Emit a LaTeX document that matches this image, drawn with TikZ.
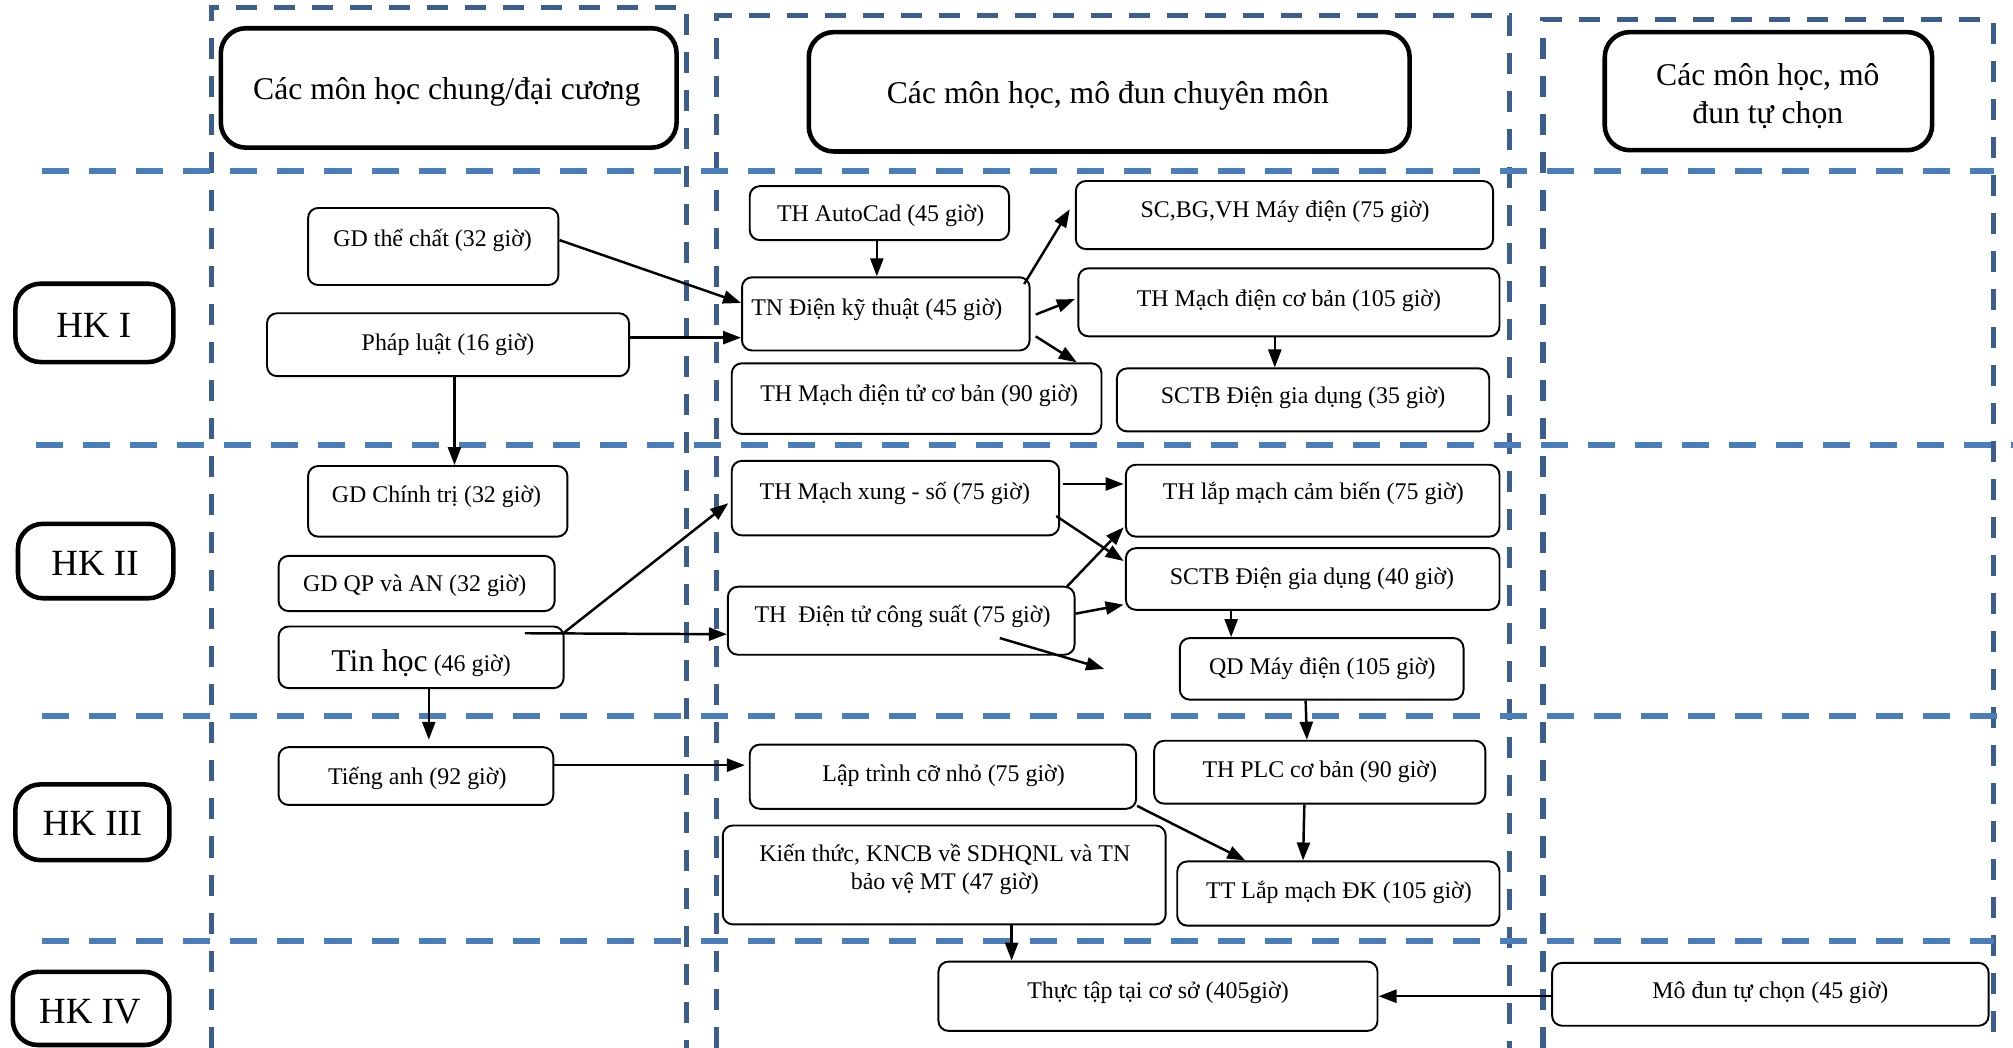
\documentclass[tikz,border=0pt]{standalone}
\usepackage{fontspec}
\setmainfont{Liberation Serif}
\usetikzlibrary{arrows.meta,fit,calc}
\definecolor{colD}{HTML}{3B5E8C}
\definecolor{colL}{HTML}{4A7EBB}
\begin{document}
\begin{tikzpicture}[x=0.012838cm, y=-0.012838cm,
  box/.style={draw, line width=0.55pt, rounded corners=0.1cm, inner sep=0pt},
  hdr/.style={draw, line width=1.3pt, rounded corners=0.25cm, inner sep=0pt},
  txt/.style={inner sep=0pt, yshift=-0.8pt, font=\fontsize{6.8}{7.7}\selectfont, align=center},
  htxt/.style={inner sep=0pt, yshift=-1pt, font=\fontsize{9}{10.9}\selectfont, align=center},
  hktxt/.style={inner sep=0pt, yshift=-0.4pt, font=\fontsize{10.5}{12}\selectfont},
  arr/.style={-{Triangle[length=0.18cm,width=0.13cm]}, line width=0.7pt},
  colline/.style={draw=colD, line width=0.053cm, dash pattern=on 0.21cm off 0.17cm},
  rowline/.style={draw=colL, line width=0.06cm, dash pattern=on 0.27cm off 0.2cm}]
\useasboundingbox (0,0) rectangle (1568,816);

% dashed grid
\draw[colline] (165,816) -- (165,6) -- (535,6) -- (535,816);
\draw[colline] (558,816) -- (558,12) -- (1176,12) -- (1176,816);
\draw[colline] (1202,816) -- (1202,15) -- (1553,15) -- (1553,816);
\draw[rowline] (33,133) -- (1553,133);
\draw[rowline] (28,347) -- (1568,347);
\draw[rowline] (33,558) -- (1568,558);
\draw[rowline] (33,733) -- (1553,733);

% headers
\node[hdr, fit={(172,22) (527,115)}] (h1) {};
\node[htxt] (h1t) at (348,69) {Các môn học chung/đại cương};
\node[hdr, fit={(630,25) (1098,118)}] (h2) {};
\node[htxt] (h2t) at (863,72) {Các môn học, mô đun chuyên môn};
\node[hdr, fit={(1250,25) (1505,117)}] (h3) {};
\node[htxt] (h3t) at (1377,72) {Các môn học, mô\\đun tự chọn};

% semester labels
\node[hdr, fit={(12,221) (135,282)}] (hk1) {};
\node[hktxt] (hk1t) at (73,252) {HK I};
\node[hdr, fit={(14,408) (135,466)}] (hk2) {};
\node[hktxt] (hk2t) at (74,438) {HK II};
\node[hdr, fit={(12,611) (132,670)}] (hk3) {};
\node[hktxt] (hk3t) at (72,640) {HK III};
\node[hdr, fit={(10,757) (132,814)}] (hk4) {};
\node[hktxt] (hk4t) at (70,787) {HK IV};

% column 1
\node[box, fit={(240,162) (435,222)}] (gdtc) {};
\node[txt] (gdtct) at (337,185) {GD thể chất (32 giờ)};
\node[box, fit={(208,244) (490,293)}] (pl) {};
\node[txt] (plt) at (349,266) {Pháp luật (16 giờ)};
\node[box, fit={(240,363) (442,418)}] (gdct) {};
\node[txt] (gdctt) at (340,385) {GD Chính trị (32 giờ)};
\node[box, fit={(217,433) (432,476)}] (gdqp) {};
\node[txt] (gdqpt) at (323,454) {GD QP và AN (32 giờ)};
\node[box, fit={(217,488) (439,536)}] (tinhoc) {};
\node[txt] (tinhoct) at (328,514) {{\fontsize{9}{10}\selectfont Tin học} (46 giờ)};
\node[box, fit={(217,582) (431,627)}] (tienganh) {};
\node[txt] (tiengancht) at (325,604) {Tiếng anh (92 giờ)};

% column 2, HK I
\node[box, fit={(584,145) (786,187)}] (autocad) {};
\node[txt] (autocadt) at (686,166) {TH AutoCad (45 giờ)};
\node[box, fit={(578,216) (802,273)}] (tn) {};
\node[txt] (tnt) at (683,239) {TN Điện kỹ thuật (45 giờ)};
\node[box, fit={(570,283) (858,338)}] (thmdt) {};
\node[txt] (thmdtt) at (716,306) {TH Mạch điện tử cơ bản (90 giờ)};
\node[box, fit={(838,141) (1163,194)}] (scbg) {};
\node[txt] (scbgt) at (1001,163) {SC,BG,VH Máy điện (75 giờ)};
\node[box, fit={(840,209) (1168,262)}] (thmdcb) {};
\node[txt] (thmdcbt) at (1004,232) {TH Mạch điện cơ bản (105 giờ)};
\node[box, fit={(870,287) (1160,336)}] (sctb35) {};
\node[txt] (sctb35t) at (1015,308) {SCTB Điện gia dụng (35 giờ)};

% column 2, HK II
\node[box, fit={(570,359) (825,417)}] (thmx) {};
\node[txt] (thmxt) at (697,382) {TH Mạch xung - số (75 giờ)};
\node[box, fit={(877,362) (1168,418)}] (thlm) {};
\node[txt] (thlmt) at (1023,382) {TH lắp mạch cảm biến (75 giờ)};
\node[box, fit={(877,427) (1168,475)}] (sctb40) {};
\node[txt] (sctb40t) at (1022,449) {SCTB Điện gia dụng (40 giờ)};
\node[box, fit={(567,457) (837,510)}] (thdtcs) {};
\node[txt] (thdtcst) at (703,478) {TH\ \ Điện tử công suất (75 giờ)};
\node[box, fit={(919,497) (1140,545)}] (qd) {};
\node[txt] (qdt) at (1030,519) {QD Máy điện (105 giờ)};

% column 2, HK III
\node[box, fit={(584,580) (885,630)}] (ltcn) {};
\node[txt] (ltcnt) at (735,602) {Lập trình cỡ nhỏ (75 giờ)};
\node[box, fit={(899,577) (1157,626)}] (plc) {};
\node[txt] (plct) at (1028,599) {TH PLC cơ bản (90 giờ)};
\node[box, fit={(563,643) (908,720)}] (kt) {};
\node[txt] (ktt) at (736,675) {Kiến thức, KNCB về SDHQNL và TN\\bảo vệ MT (47 giờ)};
\node[box, fit={(917,671) (1168,721)}] (ttlm) {};
\node[txt] (ttlmt) at (1043,693) {TT Lắp mạch ĐK (105 giờ)};

% HK IV
\node[box, fit={(731,749) (1073,803)}] (ttcs) {};
\node[txt] (ttcst) at (902,771) {Thực tập tại cơ sở (405giờ)};
\node[box, fit={(1209,750) (1549,799)}] (mdtc) {};
\node[txt] (mdtct) at (1379,771) {Mô đun tự chọn (45 giờ)};

\coordinate (dang) at (860,521);

% connectors
\draw[arr] ($(gdtc.east)+(0,-5)$) -- ($(tn.west)+(0,-8.5)$);
\draw[arr] ($(pl.east)+(0,-5.5)$) -- ($(tn.west)+(0,18.5)$);
\draw[arr] ($(autocad.south)+(-2,0)$) -- ($(tn.north)+(-7,0)$);
\draw[arr] ($(tn.north east)+(-5,6)$) -- ($(scbg.west)+(-4,-4.5)$);
\draw[arr] ($(tn.east)+(4,0.5)$) -- ($(thmdcb.west)+(-2,-2.5)$);
\draw[arr] ($(tn.east)+(4,17.5)$) -- ($(thmdt.north east)+(-20,0)$);
\draw[arr] ($(thmdcb.south)+(-11,0)$) -- ($(sctb35.north)+(-22,0)$);
\draw[arr] ($(pl.south)+(5,0)$) -- ($(gdct.north)+(13,0)$);
\draw[arr] ($(tinhoc.north east)+(-1,6)$) -- ($(thmx.west)+(-2,4)$);
\draw[arr] ($(tinhoc.north east)+(-31,6)$) -- ($(thdtcs.west)+(0,10.5)$);
\draw[arr] ($(tinhoc.south)+(6,0)$) -- ($(tienganh.north)+(10,-5)$);
\draw[arr] ($(tienganh.east)+(0,-8.5)$) -- ($(ltcn.west)+(-3,-9)$);
\draw[arr] ($(thmx.east)+(2,-11)$) -- ($(thlm.west)+(-1,-13)$);
\draw[arr] ($(thmx.east)+(-3,14)$) -- ($(sctb40.west)+(-1,-14)$);
\draw[arr] ($(thdtcs.north east)+(-7,1)$) -- ($(thlm.south west)+(-1,-8)$);
\draw[arr] ($(thdtcs.east)+(0,-5.5)$) -- ($(sctb40.west)+(-1,20)$);
\draw[arr] ($(thdtcs.east)+(-59,13.5)$) -- (dang);
\draw[arr] ($(sctb40.south)+(-63.5,0)$) -- ($(qd.north)+(-70.5,0)$);
\draw[arr] ($(qd.south)+(-12.5,0)$) -- ($(plc.north)+(-10,0)$);
\draw[arr] ($(ltcn.south east)+(0,-3)$) -- ($(ttlm.north)+(-72.5,0)$);
\draw[arr] ($(plc.south)+(-12,0)$) -- ($(ttlm.north)+(-27.5,0)$);
\draw[arr] ($(kt.south)+(52.5,0)$) -- ($(ttcs.north)+(-114,0)$);
\draw[arr] ($(mdtc.west)+(0,1.5)$) -- ($(ttcs.east)+(0,0)$);
\end{tikzpicture}
\end{document}
